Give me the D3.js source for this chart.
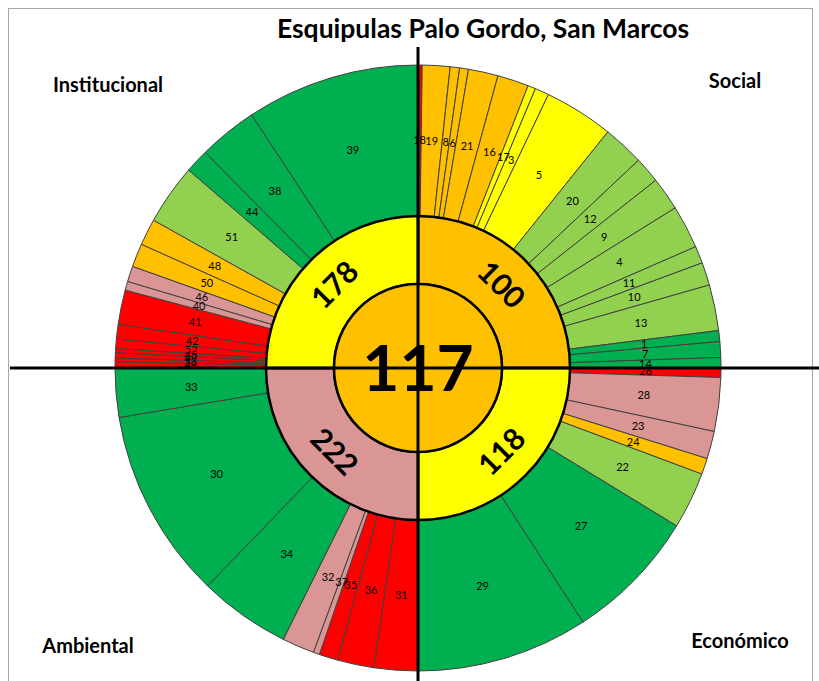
<!DOCTYPE html>
<html>
<head>
<meta charset="utf-8">
<script src="https://cdn.jsdelivr.net/npm/d3@7"></script>
<style>
  body { margin: 0; background: #fff; }
  svg { display: block; font-family: Lato, "Open Sans", sans-serif; }
</style>
</head>
<body>
<div id="chart"></div>
<script>
var width = 819, height = 681;
var cx = 418, cy = 368;

// dimensiones (en orden horario desde las 12)
var dimensions = ["Social", "Económico", "Ambiental", "Institucional"];
var dimensionScores = [100, 118, 222, 178];
var dimensionLevels = ["naranja", "amarillo", "rosa", "amarillo"];
var totalScore = 117;
var totalLevel = "naranja";

// indicadores por dimension
var socialIds = [18, 19, 8, 6, 21, 16, 17, 3, 5, 20, 12, 9, 4, 11, 10, 13, 1, 7, 14];
var socialWeights = [0.8, 5.3, 1.8, 1.7, 5.7, 6.0, 1.5, 2.7, 13.3, 7.9, 5.0, 6.4, 8.3, 3.3, 4.4, 8.8, 2.1, 3.0, 2.0];
var socialLevels = ["rojo", "naranja", "naranja", "naranja", "naranja", "naranja", "amarillo", "amarillo", "amarillo",
  "verdeClaro", "verdeClaro", "verdeClaro", "verdeClaro", "verdeClaro", "verdeClaro", "verdeClaro", "verde", "verde", "verde"];

var economicoIds = [26, 28, 23, 24, 22, 27, 29];
var economicoWeights = [1.8, 10.3, 5.3, 3.1, 10.9, 25.6, 33.0];
var economicoLevels = ["rojo", "rosa", "rosa", "naranja", "verdeClaro", "verde", "verde"];

var ambientalIds = [31, 36, 35, 37, 32, 34, 30, 33];
var ambientalWeights = [8.4, 7.0, 3.6, 1.2, 6.2, 17.6, 36.6, 9.4];
var ambientalLevels = ["rojo", "rojo", "rojo", "rosa", "rosa", "verde", "verde", "verde"];

var institucionalIds = [43, 53, 49, 45, 52, 42, 41, 40, 46, 50, 48, 51, 44, 38, 39];
var institucionalWeights = [1.2, 0.7, 1.0, 0.8, 1.8, 2.8, 6.6, 1.7, 3.0, 4.5, 5.1, 11.6, 4.6, 11.3, 33.3];
var institucionalLevels = ["rojo", "rojo", "rojo", "rojo", "rojo", "rojo", "rojo", "rosa", "rosa",
  "naranja", "naranja", "verdeClaro", "verde", "verde", "verde"];

var color = d3.scaleOrdinal()
  .domain(["rojo", "rosa", "naranja", "amarillo", "verdeClaro", "verde"])
  .range(["#FF0000", "#DA9694", "#FFC000", "#FFFF00", "#92D050", "#00B050"]);

var groups = [
  {ids: socialIds, w: socialWeights, lv: socialLevels},
  {ids: economicoIds, w: economicoWeights, lv: economicoLevels},
  {ids: ambientalIds, w: ambientalWeights, lv: ambientalLevels},
  {ids: institucionalIds, w: institucionalWeights, lv: institucionalLevels}
];

var rCenter = 84, rRing = 152, rOuter = 303;

var svg = d3.select("#chart").append("svg")
  .attr("width", width)
  .attr("height", height);

// marco
svg.append("rect")
  .attr("x", 8.5).attr("y", 8.5)
  .attr("width", 804).attr("height", 700)
  .attr("fill", "none")
  .attr("stroke", "#a6a6a6")
  .attr("stroke-width", 1);

var g = svg.append("g").attr("transform", "translate(" + cx + "," + cy + ")");

var outerArc = d3.arc().innerRadius(rRing).outerRadius(rOuter);
var ringArc = d3.arc().innerRadius(rCenter).outerRadius(rRing);

var outerSlices = [];
groups.forEach(function (grp, i) {
  var items = grp.ids.map(function (id, k) { return {id: id, w: grp.w[k], lv: grp.lv[k]}; });
  var pie = d3.pie().sort(null)
    .value(function (d) { return d.w; })
    .startAngle(i * Math.PI / 2)
    .endAngle((i + 1) * Math.PI / 2);
  outerSlices = outerSlices.concat(pie(items));
});

g.selectAll(".outer")
  .data(outerSlices)
  .enter().append("path")
  .attr("class", "outer")
  .attr("d", outerArc)
  .attr("fill", function (d) { return color(d.data.lv); })
  .attr("stroke", "#404040")
  .attr("stroke-width", 1);

// anillo de dimensiones
var ringPie = d3.pie().sort(null).value(function () { return 1; });
var ringSlices = ringPie(dimensions.map(function (d, i) {
  return {name: d, score: dimensionScores[i], lv: dimensionLevels[i]};
}));

g.selectAll(".ring")
  .data(ringSlices)
  .enter().append("path")
  .attr("class", "ring")
  .attr("d", ringArc)
  .attr("fill", function (d) { return color(d.data.lv); })
  .attr("stroke", "#000")
  .attr("stroke-width", 2.5);

// etiquetas de indicadores
g.selectAll(".lbl")
  .data(outerSlices)
  .enter().append("text")
  .attr("class", "lbl")
  .attr("transform", function (d) { return "translate(" + outerArc.centroid(d) + ")"; })
  .attr("text-anchor", "middle")
  .attr("dy", "0.35em")
  .style("font-size", "11px")
  .style("fill", "#000")
  .text(function (d) { return d.data.id; });

// ejes
svg.append("line")
  .attr("x1", 10).attr("x2", 819)
  .attr("y1", cy).attr("y2", cy)
  .attr("stroke", "#000").attr("stroke-width", 3);
svg.append("line")
  .attr("x1", cx).attr("x2", cx)
  .attr("y1", 47).attr("y2", 681)
  .attr("stroke", "#000").attr("stroke-width", 3);

// centro
g.append("circle")
  .attr("r", rCenter)
  .attr("fill", color(totalLevel))
  .attr("stroke", "#000")
  .attr("stroke-width", 2.5);
g.append("text")
  .attr("text-anchor", "middle")
  .attr("dy", "0.36em")
  .style("font-size", "64px")
  .style("font-weight", "bold")
  .text(totalScore);

// puntajes de dimensiones
g.selectAll(".score")
  .data(ringSlices)
  .enter().append("text")
  .attr("class", "score")
  .attr("transform", function (d, i) {
    var c = ringArc.centroid(d);
    var rot = (i % 2 === 0) ? 45 : -45;
    return "translate(" + c + ") rotate(" + rot + ")";
  })
  .attr("text-anchor", "middle")
  .attr("dy", "0.36em")
  .style("font-size", "30px")
  .style("font-weight", "bold")
  .text(function (d) { return d.data.score; });

// nombres de dimensiones
var dimPos = [[735, 88], [740, 648], [88, 653], [108, 92]];
svg.selectAll(".dim")
  .data(dimensions)
  .enter().append("text")
  .attr("class", "dim")
  .attr("x", function (d, i) { return dimPos[i][0]; })
  .attr("y", function (d, i) { return dimPos[i][1]; })
  .attr("text-anchor", "middle")
  .style("font-size", "20px")
  .style("font-weight", "bold")
  .text(function (d) { return d; });

svg.append("text")
  .attr("x", 483).attr("y", 38)
  .attr("text-anchor", "middle")
  .style("font-size", "26.5px")
  .style("font-weight", "bold")
  .text("Esquipulas Palo Gordo, San Marcos");
</script>
</body>
</html>
